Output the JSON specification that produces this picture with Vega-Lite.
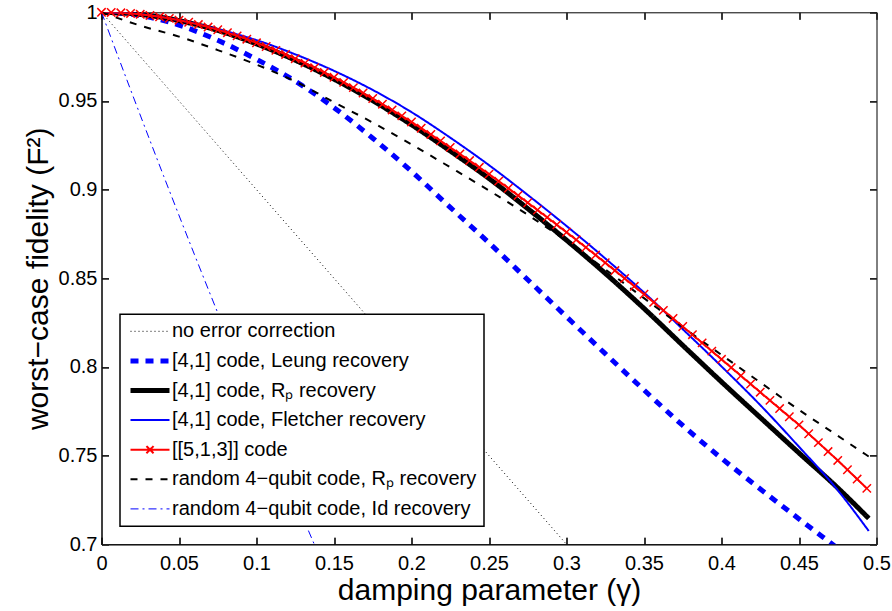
{
  "$schema": "https://vega.github.io/schema/vega-lite/v6.json",
  "width": 775,
  "height": 532,
  "autosize": {"type": "none"},
  "padding": {"left": 101.5, "top": 12.3, "right": 15.5, "bottom": 66.7},
  "background": "white",
  "config": {
    "font": "Liberation Sans",
    "view": {"stroke": "#000000", "strokeWidth": 1},
    "axis": {
      "labelFont": "Liberation Sans", "labelFontSize": 20, "labelColor": "#000000",
      "titleFont": "Liberation Sans", "titleFontSize": 30, "titleFontWeight": "normal", "titleColor": "#000000",
      "domainColor": "#000000",
      "labelFlush": false, "labelOverlap": false
    }
  },
  "data": {"values": [
    {"s":"A","g":0,"f":1},{"s":"A","g":0.3,"f":0.7},
    {"s":"B","g":0,"f":1},{"s":"B","g":0.025,"f":0.9982},{"s":"B","g":0.05,"f":0.9928},{"s":"B","g":0.075,"f":0.9842},{"s":"B","g":0.1,"f":0.9735},{"s":"B","g":0.125,"f":0.9612},{"s":"B","g":0.15,"f":0.9462},{"s":"B","g":0.175,"f":0.929},{"s":"B","g":0.2,"f":0.9103},{"s":"B","g":0.225,"f":0.89},{"s":"B","g":0.25,"f":0.87},{"s":"B","g":0.275,"f":0.8492},{"s":"B","g":0.3,"f":0.8283},{"s":"B","g":0.325,"f":0.8075},{"s":"B","g":0.35,"f":0.787},{"s":"B","g":0.375,"f":0.767},{"s":"B","g":0.4,"f":0.7485},{"s":"B","g":0.425,"f":0.7312},{"s":"B","g":0.45,"f":0.7143},{"s":"B","g":0.475,"f":0.6977},{"s":"B","g":0.5,"f":0.681},
    {"s":"C","g":0,"f":1},{"s":"C","g":0.025,"f":0.9988},{"s":"C","g":0.05,"f":0.9953},{"s":"C","g":0.075,"f":0.9898},{"s":"C","g":0.1,"f":0.9822},{"s":"C","g":0.125,"f":0.973},{"s":"C","g":0.15,"f":0.9623},{"s":"C","g":0.175,"f":0.9502},{"s":"C","g":0.2,"f":0.9366},{"s":"C","g":0.225,"f":0.9218},{"s":"C","g":0.25,"f":0.9063},{"s":"C","g":0.275,"f":0.8893},{"s":"C","g":0.3,"f":0.8715},{"s":"C","g":0.325,"f":0.8528},{"s":"C","g":0.35,"f":0.833},{"s":"C","g":0.375,"f":0.8122},{"s":"C","g":0.4,"f":0.7916},{"s":"C","g":0.425,"f":0.7715},{"s":"C","g":0.45,"f":0.7515},{"s":"C","g":0.475,"f":0.7318},{"s":"C","g":0.495,"f":0.7146},
    {"s":"D","g":0,"f":1},{"s":"D","g":0.025,"f":0.9989},{"s":"D","g":0.05,"f":0.9956},{"s":"D","g":0.075,"f":0.9905},{"s":"D","g":0.1,"f":0.9843},{"s":"D","g":0.125,"f":0.9763},{"s":"D","g":0.15,"f":0.967},{"s":"D","g":0.175,"f":0.9562},{"s":"D","g":0.2,"f":0.9437},{"s":"D","g":0.225,"f":0.9293},{"s":"D","g":0.25,"f":0.9138},{"s":"D","g":0.275,"f":0.897},{"s":"D","g":0.3,"f":0.8795},{"s":"D","g":0.325,"f":0.8612},{"s":"D","g":0.35,"f":0.842},{"s":"D","g":0.375,"f":0.8213},{"s":"D","g":0.4,"f":0.8003},{"s":"D","g":0.425,"f":0.7785},{"s":"D","g":0.45,"f":0.755},{"s":"D","g":0.475,"f":0.7305},{"s":"D","g":0.495,"f":0.7075},
    {"s":"E","g":0,"f":1},{"s":"E","g":0.00625,"f":0.99993},{"s":"E","g":0.0125,"f":0.99971},{"s":"E","g":0.01875,"f":0.99936},{"s":"E","g":0.025,"f":0.99886},{"s":"E","g":0.03125,"f":0.99823},{"s":"E","g":0.0375,"f":0.99747},{"s":"E","g":0.04375,"f":0.99657},{"s":"E","g":0.05,"f":0.99554},{"s":"E","g":0.05625,"f":0.99438},{"s":"E","g":0.0625,"f":0.9931},{"s":"E","g":0.06875,"f":0.99169},{"s":"E","g":0.075,"f":0.99016},{"s":"E","g":0.08125,"f":0.9885},{"s":"E","g":0.0875,"f":0.98672},{"s":"E","g":0.09375,"f":0.98482},{"s":"E","g":0.1,"f":0.9828},{"s":"E","g":0.10625,"f":0.98071},{"s":"E","g":0.1125,"f":0.97852},{"s":"E","g":0.11875,"f":0.97622},{"s":"E","g":0.125,"f":0.97383},{"s":"E","g":0.13125,"f":0.97134},{"s":"E","g":0.1375,"f":0.96876},{"s":"E","g":0.14375,"f":0.96609},{"s":"E","g":0.15,"f":0.96333},{"s":"E","g":0.15625,"f":0.96047},{"s":"E","g":0.1625,"f":0.95752},{"s":"E","g":0.16875,"f":0.95449},{"s":"E","g":0.175,"f":0.9514},{"s":"E","g":0.18125,"f":0.94819},{"s":"E","g":0.1875,"f":0.94493},{"s":"E","g":0.19375,"f":0.94159},{"s":"E","g":0.2,"f":0.93816},{"s":"E","g":0.20625,"f":0.93466},{"s":"E","g":0.2125,"f":0.93111},{"s":"E","g":0.21875,"f":0.9275},{"s":"E","g":0.225,"f":0.92381},{"s":"E","g":0.23125,"f":0.92011},{"s":"E","g":0.2375,"f":0.91638},{"s":"E","g":0.24375,"f":0.9126},{"s":"E","g":0.25,"f":0.90875},{"s":"E","g":0.25625,"f":0.90479},{"s":"E","g":0.2625,"f":0.90078},{"s":"E","g":0.26875,"f":0.89672},{"s":"E","g":0.275,"f":0.89261},{"s":"E","g":0.28125,"f":0.88851},{"s":"E","g":0.2875,"f":0.88436},{"s":"E","g":0.29375,"f":0.88019},{"s":"E","g":0.3,"f":0.87598},{"s":"E","g":0.30625,"f":0.87172},{"s":"E","g":0.3125,"f":0.86743},{"s":"E","g":0.31875,"f":0.86312},{"s":"E","g":0.325,"f":0.85878},{"s":"E","g":0.33125,"f":0.85437},{"s":"E","g":0.3375,"f":0.84993},{"s":"E","g":0.34375,"f":0.84547},{"s":"E","g":0.35,"f":0.841},{"s":"E","g":0.35625,"f":0.83647},{"s":"E","g":0.3625,"f":0.83193},{"s":"E","g":0.36875,"f":0.82738},{"s":"E","g":0.375,"f":0.82281},{"s":"E","g":0.38125,"f":0.8182},{"s":"E","g":0.3875,"f":0.81358},{"s":"E","g":0.39375,"f":0.80895},{"s":"E","g":0.4,"f":0.80432},{"s":"E","g":0.40625,"f":0.79968},{"s":"E","g":0.4125,"f":0.79505},{"s":"E","g":0.41875,"f":0.79041},{"s":"E","g":0.425,"f":0.78578},{"s":"E","g":0.43125,"f":0.78115},{"s":"E","g":0.4375,"f":0.77653},{"s":"E","g":0.44375,"f":0.77192},{"s":"E","g":0.45,"f":0.76733},{"s":"E","g":0.45625,"f":0.76233},{"s":"E","g":0.4625,"f":0.75732},{"s":"E","g":0.46875,"f":0.75231},{"s":"E","g":0.475,"f":0.7473},{"s":"E","g":0.48125,"f":0.74205},{"s":"E","g":0.4875,"f":0.7368},{"s":"E","g":0.49375,"f":0.73153},
    {"s":"F","g":0,"f":1},{"s":"F","g":0.025,"f":0.9925},{"s":"F","g":0.05,"f":0.9863},{"s":"F","g":0.075,"f":0.9787},{"s":"F","g":0.1,"f":0.9705},{"s":"F","g":0.125,"f":0.961},{"s":"F","g":0.15,"f":0.9493},{"s":"F","g":0.175,"f":0.9378},{"s":"F","g":0.2,"f":0.9255},{"s":"F","g":0.225,"f":0.9126},{"s":"F","g":0.25,"f":0.8995},{"s":"F","g":0.275,"f":0.8858},{"s":"F","g":0.3,"f":0.871},{"s":"F","g":0.325,"f":0.855},{"s":"F","g":0.35,"f":0.8388},{"s":"F","g":0.375,"f":0.8225},{"s":"F","g":0.4,"f":0.8068},{"s":"F","g":0.425,"f":0.7913},{"s":"F","g":0.45,"f":0.7758},{"s":"F","g":0.475,"f":0.7612},{"s":"F","g":0.495,"f":0.7495},
    {"s":"G","g":0,"f":1},{"s":"G","g":0.02,"f":0.9535},{"s":"G","g":0.04,"f":0.9079},{"s":"G","g":0.06,"f":0.8633},{"s":"G","g":0.08,"f":0.8197},{"s":"G","g":0.1,"f":0.777},{"s":"G","g":0.12,"f":0.7353},{"s":"G","g":0.14,"f":0.6945}
  ]},
  "layer": [
    {
      "mark": {"type": "line", "clip": true, "interpolate": "monotone"},
      "encoding": {
        "x": {"field": "g", "type": "quantitative",
          "scale": {"domain": [0, 0.5], "nice": false, "zero": false},
          "axis": {"orient": "bottom", "values": [0,0.05,0.1,0.15,0.2,0.25,0.3,0.35,0.4,0.45,0.5], "format": "~g", "ticks": true, "tickSize": -7, "tickColor": "#222222", "tickWidth": 1.5, "labelPadding": 16, "title": "damping parameter (γ)", "titlePadding": 2,
            "grid": true, "gridColor": "#222222", "gridWidth": 1.2, "gridOpacity": 1, "gridDash": [7, 518, 7, 0]}},
        "y": {"field": "f", "type": "quantitative",
          "scale": {"domain": [0.7, 1], "nice": false, "zero": false},
          "axis": {"orient": "left", "values": [0.7,0.75,0.8,0.85,0.9,0.95,1], "format": "~g", "ticks": true, "tickSize": -7, "tickColor": "#222222", "tickWidth": 1.5, "labelPadding": 11.5, "title": "worst−case fidelity (F²)", "titlePadding": 5,
            "grid": true, "gridColor": "#222222", "gridWidth": 1.2, "gridOpacity": 1, "gridDash": [7, 761, 7, 0]}},
        "color": {"field": "s", "type": "nominal",
          "scale": {"domain": ["A","B","C","D","E","F","G"], "range": ["#000000","#0000ff","#000000","#0000ff","#ff0000","#000000","#0000ff"]},
          "legend": {
            "title": null, "orient": "none", "legendX": 18.5, "legendY": 302,
            "padding": 7, "rowPadding": 9.6,
            "fillColor": "#ffffff", "strokeColor": "#000000",
            "symbolType": "M-3,0L3,0", "symbolSize": 169, "symbolOffset": 13,
            "labelOffset": 12, "labelFontSize": 20, "labelFont": "Liberation Sans", "labelColor": "#000000", "labelLimit": 0,
            "labelExpr": "{'A':'no error correction','B':'[4,1] code, Leung recovery','C':'[4,1] code, Rₚ recovery','D':'[4,1] code, Fletcher recovery','E':'[[5,1,3]] code','F':'random 4−qubit code, Rₚ recovery','G':'random 4−qubit code, Id recovery'}[datum.label]",
            "encode": {
              "symbols": {"update": {"shape": {"signal": "datum.value === 'E' ? 'M-3,0L3,0M-0.55,-0.55L0.55,0.55M-0.55,0.55L0.55,-0.55' : 'M-3,0L3,0'"}}},
              "legend": {"update": {"strokeWidth": {"value": 1.5}}}
            }
          }},
        "strokeDash": {"field": "s", "type": "nominal",
          "scale": {"domain": ["A","B","C","D","E","F","G"], "range": [[1,3],[8,7],[1,0],[1,0],[1,0],[7,8],[8,4,2,4]]}},
        "strokeWidth": {"field": "s", "type": "nominal",
          "scale": {"type": "ordinal", "domain": ["A","B","C","D","E","F","G"], "range": [1,5,5,2,2,2,1]}}
      }
    },
    {
      "transform": [{"filter": "datum.s === 'E'"}],
      "mark": {"type": "point", "shape": "M-1,-1L1,1M-1,1L1,-1", "filled": false, "stroke": "#ff0000", "strokeWidth": 1.5, "size": 70, "opacity": 1},
      "encoding": {
        "x": {"field": "g", "type": "quantitative",
          "axis": {"orient": "top", "grid": false, "ticks": true, "tickSize": -7, "tickColor": "#222222", "tickWidth": 1.5, "labels": false, "title": null, "domain": false, "values": [0,0.05,0.1,0.15,0.2,0.25,0.3,0.35,0.4,0.45,0.5]}},
        "y": {"field": "f", "type": "quantitative",
          "axis": {"orient": "right", "grid": false, "ticks": true, "tickSize": -7, "tickColor": "#222222", "tickWidth": 1.5, "labels": false, "title": null, "domain": false, "values": [0.7,0.75,0.8,0.85,0.9,0.95,1]}}
      }
    }
  ],
  "resolve": {"axis": {"x": "independent", "y": "independent"}}
}
